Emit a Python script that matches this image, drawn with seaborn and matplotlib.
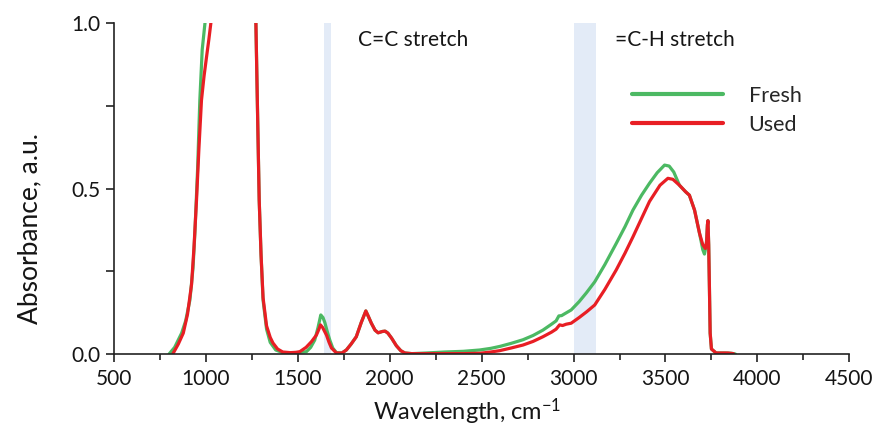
import numpy as np
import pandas as pd
import matplotlib
matplotlib.use("Agg")
import matplotlib.pyplot as plt
from matplotlib.ticker import MultipleLocator, FixedLocator
import seaborn as sns

# IR absorbance spectra of the fresh and used sample
fresh_wn = [800, 830, 868, 890, 913, 930, 940, 955, 967, 980, 995, 1020, 1100, 1200,
            1255, 1272, 1282, 1290, 1300, 1311, 1330, 1350, 1380, 1418, 1460, 1500,
            1547, 1570, 1592, 1610, 1625, 1637, 1647, 1660, 1674, 1690, 1710, 1740,
            1764, 1790, 1818, 1845, 1870, 1885, 1900, 1920, 1937, 1960, 1975, 1990,
            2010, 2036, 2060, 2082, 2120, 2200, 2300, 2400, 2489, 2550, 2600, 2660,
            2725, 2780, 2833, 2880, 2905, 2920, 2935, 2950, 2987, 3030, 3070, 3115,
            3170, 3232, 3280, 3323, 3370, 3413, 3455, 3495, 3520, 3545, 3576, 3610,
            3630, 3658, 3685, 3703, 3712, 3722, 3728, 3731, 3735, 3739, 3743, 3750,
            3775, 3820, 3860, 3880]
fresh_abs = [0.0, 0.02, 0.063, 0.10, 0.163, 0.26, 0.365, 0.56, 0.767, 0.92, 1.0, 1.2, 1.6, 1.6,
             1.2, 1.0, 0.70, 0.465, 0.30, 0.163, 0.075, 0.035, 0.012, 0.004, 0.003, 0.004,
             0.007, 0.02, 0.042, 0.08, 0.118, 0.11, 0.095, 0.068, 0.042, 0.018, 0.004, 0.003,
             0.012, 0.03, 0.052, 0.095, 0.13, 0.112, 0.093, 0.072, 0.064, 0.068, 0.069, 0.063,
             0.048, 0.025, 0.01, 0.003, 0.001, 0.003, 0.006, 0.008, 0.012, 0.017, 0.023, 0.032,
             0.043, 0.056, 0.072, 0.09, 0.10, 0.115, 0.116, 0.121, 0.133, 0.158, 0.185, 0.218,
             0.27, 0.334, 0.385, 0.435, 0.48, 0.516, 0.548, 0.571, 0.568, 0.55, 0.51, 0.49,
             0.48, 0.435, 0.365, 0.315, 0.302, 0.33, 0.39, 0.403, 0.33, 0.20, 0.063, 0.015,
             0.003, 0.003, 0.002, 0.0]

used_wn = [820, 850, 877, 900, 922, 935, 949, 962, 976, 990, 1004, 1016, 1027, 1060, 1150,
           1230, 1260, 1272, 1282, 1290, 1300, 1311, 1330, 1350, 1365, 1390, 1418, 1460,
           1490, 1511, 1545, 1574, 1601, 1615, 1623, 1635, 1656, 1670, 1683, 1710, 1740,
           1764, 1790, 1818, 1845, 1870, 1885, 1900, 1920, 1937, 1960, 1975, 1990, 2010,
           2036, 2060, 2082, 2120, 2200, 2300, 2400, 2489, 2550, 2598, 2660, 2725, 2780,
           2833, 2880, 2905, 2924, 2940, 2960, 2987, 3030, 3070, 3115, 3170, 3232, 3280,
           3323, 3370, 3413, 3470, 3513, 3540, 3576, 3610, 3630, 3658, 3685, 3703, 3717,
           3724, 3728, 3731, 3735, 3739, 3743, 3750, 3775, 3840, 3870]
used_abs = [0.0, 0.03, 0.063, 0.12, 0.21, 0.32, 0.465, 0.62, 0.767, 0.84, 0.9, 0.95, 1.0, 1.3, 1.6,
            1.5, 1.15, 1.0, 0.70, 0.465, 0.30, 0.17, 0.085, 0.05, 0.033, 0.015, 0.006, 0.004,
            0.005, 0.007, 0.02, 0.037, 0.057, 0.075, 0.088, 0.08, 0.057, 0.035, 0.018, 0.003, 0.003,
            0.012, 0.03, 0.052, 0.095, 0.13, 0.112, 0.093, 0.072, 0.064, 0.068, 0.069, 0.063, 0.048,
            0.025, 0.01, 0.003, 0.001, 0.001, 0.001, 0.001, 0.002, 0.006, 0.010, 0.018, 0.027, 0.038,
            0.052, 0.066, 0.075, 0.088, 0.086, 0.09, 0.093, 0.11, 0.127, 0.148, 0.195, 0.254, 0.305,
            0.354, 0.41, 0.461, 0.51, 0.531, 0.528, 0.51, 0.49, 0.48, 0.435, 0.365, 0.33, 0.319,
            0.34, 0.39, 0.403, 0.33, 0.20, 0.063, 0.015, 0.003, 0.003, 0.001]

series_names = ["Fresh", "Used"]
series_colors = ["#4CB963", "#E81E24"]

# Highlighted vibration bands (cm-1) and their labels
bands = [(1640, 1680), (3000, 3120)]
band_labels = ["C=C stretch", "=C-H stretch"]
band_label_x = [1826, 3223]

x_ticks = [500, 1000, 1500, 2000, 2500, 3000, 3500, 4000, 4500]
y_ticks = [0.0, 0.5, 1.0]

df = pd.concat([
    pd.DataFrame({"wn": fresh_wn, "A": fresh_abs, "sample": series_names[0]}),
    pd.DataFrame({"wn": used_wn, "A": used_abs, "sample": series_names[1]}),
], ignore_index=True)

sns.set_style("ticks")
plt.rcParams["font.family"] = ["Lato", "DejaVu Sans"]
plt.rcParams["mathtext.fontset"] = "custom"
plt.rcParams["mathtext.rm"] = "Lato"
plt.rcParams["mathtext.it"] = "Lato:italic"
plt.rcParams["mathtext.default"] = "regular"

ink = "#151515"
fig = plt.figure(figsize=(8.72, 4.37), dpi=100)
ax = fig.add_axes([0.1307, 0.190, 0.974 - 0.1307, 0.947 - 0.190])

for (lo, hi) in bands:
    ax.axvspan(lo, hi, color="#E3EBF7", lw=0, zorder=0)

sns.lineplot(data=df, x="wn", y="A", hue="sample", hue_order=series_names,
             palette=series_colors, estimator=None, sort=False, lw=2.3, ax=ax)

for lbl, xl in zip(band_labels, band_label_x):
    ax.text(xl, 0.95, lbl, fontsize=15, va="center", ha="left", color=ink)

ax.set_xlim(500, 4500)
ax.set_ylim(0, 1.0)
ax.xaxis.set_major_locator(FixedLocator(x_ticks))
ax.xaxis.set_minor_locator(MultipleLocator(250))
ax.yaxis.set_major_locator(FixedLocator(y_ticks))
ax.yaxis.set_minor_locator(FixedLocator([0.25, 0.75]))
ax.set_yticklabels([f"{v:.1f}" for v in y_ticks])
ax.tick_params(axis="both", which="major", labelsize=15, width=1.2, length=6,
               color="#222222", labelcolor=ink)
ax.tick_params(axis="x", which="major", pad=5)
ax.tick_params(axis="y", which="major", pad=4)
ax.tick_params(axis="x", which="minor", width=1.2, length=4, color="#222222")
ax.tick_params(axis="y", which="minor", width=1.2, length=6, color="#222222")

for side in ["top", "right"]:
    ax.spines[side].set_visible(False)
for side in ["left", "bottom"]:
    ax.spines[side].set_linewidth(1.2)
    ax.spines[side].set_color("#222222")

ax.set_xlabel("Wavelength, cm$^{-1}$", fontsize=17, color=ink)
ax.set_ylabel("Absorbance, a.u.", fontsize=19, color=ink)
ax.xaxis.set_label_coords(0.48, -0.13)
ax.yaxis.set_label_coords(-0.098, 0.38)

leg = ax.legend(loc="upper left", bbox_to_anchor=(0.705, 0.81), frameon=False,
                fontsize=15.5, handlelength=4.2, handletextpad=1.2, labelspacing=0.4,
                borderpad=0, borderaxespad=0)
for line in leg.get_lines():
    line.set_linewidth(3)

fig.savefig("out.png", dpi=100)
